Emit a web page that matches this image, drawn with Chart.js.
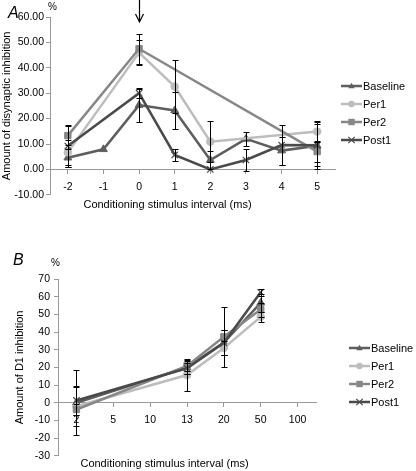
<!DOCTYPE html>
<html>
<head>
<meta charset="utf-8">
<script src="https://cdn.jsdelivr.net/npm/chart.js@4.4.1/dist/chart.umd.min.js"></script>
<style>
  body { margin: 0; background: #fff; font-family: 'Liberation Sans', Arial, sans-serif; }
  #wrap { position: relative; width: 416px; height: 471px; overflow: hidden; }
  canvas.plot { position: absolute; left: 0; }
  .lbl { position: absolute; color: #000; white-space: nowrap; line-height: 1; }
  .legend { position: absolute; font-size: 11px; }
  .legend div { height: 18px; display: flex; align-items: center; }
  .legend canvas { margin-right: 1px; }
</style>
</head>
<body>
<div id="wrap">
  <canvas id="chartA" class="plot" width="404" height="216" style="top:0"></canvas>
  <canvas id="chartB" class="plot" width="395" height="241" style="top:230px"></canvas>
  <div class="lbl" style="left:8px;top:5px;font-size:16px;font-style:italic">A</div>
  <div class="lbl" style="left:48px;top:2px;font-size:10px">%</div>
  <div class="lbl" style="left:13px;top:252px;font-size:16px;font-style:italic">B</div>
  <div class="lbl" style="left:51px;top:258px;font-size:10px">%</div>
  <div id="legendA" class="legend" style="left:341px;top:77px"></div>
  <div id="legendB" class="legend" style="left:349px;top:339px"></div>
</div>
<script>
// 系列名称
const seriesNames = ['Baseline', 'Per1', 'Per2', 'Post1'];

// 图A：条件刺激间隔 (ms)
const labelsA = ['-2', '-1', '0', '1', '2', '3', '4', '5'];
const baselineA = [4.6, 7.9, 25.3, 23.2, 3.7, 12.0, 7.4, 9.3];
const per1A = [6.7, null, 46.0, 32.6, 10.9, null, null, 14.9];
const per2A = [13.3, null, 47.5, null, null, null, null, 7.0];
const post1A = [9.2, null, 30.0, 5.7, 0.0, 3.7, 9.6, 9.5];
// 误差（±）
const baselineErrA = [3.5, null, 6.5, 7.4, 3.7, 2.9, 5.5, 9.3];
const per1ErrA = [5.0, null, 5.0, 10.4, 8.0, null, null, 4.0];
const per2ErrA = [3.8, null, 6.0, null, null, null, null, 4.0];
const post1ErrA = [8.3, null, 2.0, 2.3, null, 4.5, 8.0, 8.3];
const yTicksA = { min: -10, max: 60, step: 10 };

// 图B
const labelsB = ['2', '5', '10', '13', '20', '50', '100'];
const baselineB = [0.0, null, null, 20.0, 34.0, 56.5, null];
const per1B = [-2.0, null, null, 15.7, 31.0, 48.6, null];
const per2B = [-3.8, null, null, 20.8, 37.3, 52.7, null];
const post1B = [1.3, null, null, 19.5, 33.9, 62.5, null];
const baselineErrB = [18.5, null, null, 4.0, 7.0, 5.0, null];
const per1ErrB = [11.0, null, null, 9.0, 4.0, 3.0, null];
const per2ErrB = [3.0, null, null, 3.0, 17.0, 4.0, null];
const post1ErrB = [8.0, null, null, 3.0, 7.0, 2.0, null];
const yTicksB = { min: -30, max: 70, step: 10 };

const xTitle = 'Conditioning stimulus interval (ms)';

// 样式
const styles = [
    { color: '#5e5e5e', point: 'triangle', radius: 4.5, order: 3 },
    { color: '#bdbdbd', point: 'circle', radius: 3.8, order: 2 },
    { color: '#878787', point: 'rect', radius: 4.5, order: 1 },
    { color: '#4a4a4a', point: 'crossRot', radius: 4.5, order: 0 }
];

Chart.defaults.font.family = "'Liberation Sans', Arial, sans-serif";
Chart.defaults.color = '#000';

function makeDatasets(values, errors) {
    return values.map((v, i) => ({
        label: seriesNames[i],
        data: v,
        errors: errors[i],
        borderColor: styles[i].color,
        backgroundColor: styles[i].color,
        pointBackgroundColor: styles[i].color,
        pointBorderColor: styles[i].color,
        pointStyle: styles[i].point,
        pointRadius: styles[i].radius,
        pointBorderWidth: styles[i].point === 'crossRot' ? 1.2 : 1,
        borderWidth: 2.5,
        spanGaps: true,
        tension: 0,
        order: styles[i].order
    }));
}

// 误差线插件
const errorBars = {
    id: 'errorBars',
    afterDatasetsDraw(chart) {
        const ctx = chart.ctx;
        const yScale = chart.scales.y;
        ctx.save();
        ctx.strokeStyle = '#000';
        ctx.lineWidth = 1;
        chart.data.datasets.forEach((ds, di) => {
            const meta = chart.getDatasetMeta(di);
            ds.data.forEach((v, j) => {
                const e = ds.errors[j];
                if (v === null || e === null || e === undefined) return;
                const x = Math.round(meta.data[j].x) + 0.5;
                const yTop = Math.round(yScale.getPixelForValue(v + e)) + 0.5;
                const yBot = Math.round(yScale.getPixelForValue(v - e)) + 0.5;
                ctx.beginPath();
                ctx.moveTo(x, yTop); ctx.lineTo(x, yBot);
                ctx.moveTo(x - 3, yTop); ctx.lineTo(x + 3, yTop);
                ctx.moveTo(x - 3, yBot); ctx.lineTo(x + 3, yBot);
                ctx.stroke();
            });
        });
        ctx.restore();
    }
};

// 箭头插件（图A，0 ms 处）
const arrowMark = {
    id: 'arrowMark',
    afterDraw(chart, args, opts) {
        if (!opts.at) return;
        const ctx = chart.ctx;
        const x = Math.round(chart.scales.x.getPixelForValue(labelsA.indexOf(opts.at))) + 0.5;
        ctx.save();
        ctx.strokeStyle = '#000';
        ctx.lineWidth = 1.2;
        ctx.beginPath();
        ctx.moveTo(x, 0); ctx.lineTo(x, 22);
        ctx.moveTo(x - 4, 14); ctx.lineTo(x, 22); ctx.lineTo(x + 4, 14);
        ctx.stroke();
        ctx.restore();
    }
};

function buildChart(id, labels, datasets, yt, opt) {
    return new Chart(document.getElementById(id), {
        type: 'line',
        data: { labels: labels, datasets: datasets },
        plugins: [errorBars, arrowMark],
        options: {
            responsive: false,
            animation: false,
            layout: { padding: opt.padding },
            plugins: {
                legend: { display: false },
                tooltip: { enabled: false },
                title: {
                    display: true,
                    text: xTitle,
                    position: 'bottom',
                    font: { size: 11, weight: 'normal' },
                    padding: opt.titlePad
                },
                arrowMark: { at: opt.arrowAt }
            },
            scales: {
                x: {
                    type: 'category',
                    position: { y: 0 },
                    offset: true,
                    grid: { drawOnChartArea: false, offset: false, tickLength: 4, color: '#999' },
                    border: { color: '#999', width: 1 },
                    ticks: { padding: 7, font: { size: 10.5 }, maxRotation: 0, autoSkip: false }
                },
                y: {
                    min: yt.min,
                    max: yt.max,
                    grid: { drawOnChartArea: false, tickLength: 4, color: '#999' },
                    border: { color: '#999', width: 1 },
                    ticks: {
                        stepSize: yt.step,
                        padding: opt.tickPad,
                        font: { size: 10.5 },
                        callback: opt.fmt
                    },
                    title: {
                        display: true,
                        text: opt.yTitle,
                        font: { size: 11 },
                        padding: { top: 0, bottom: 2 }
                    },
                    afterFit: s => { s.width = opt.yWidth; }
                }
            }
        }
    });
}

buildChart('chartA', labelsA,
    makeDatasets([baselineA, per1A, per2A, post1A], [baselineErrA, per1ErrA, per2ErrA, post1ErrA]),
    yTicksA,
    {
        padding: { top: 17, right: 69, left: 0, bottom: 0 },
        titlePad: { top: 4, bottom: 4 },
        yWidth: 50, tickPad: 2,
        fmt: v => v.toFixed(2),
        yTitle: 'Amount of disynaptic inhibition',
        arrowAt: '0'
    });

buildChart('chartB', labelsB,
    makeDatasets([baselineB, per1B, per2B, post1B], [baselineErrB, per1ErrB, per2ErrB, post1ErrB]),
    yTicksB,
    {
        padding: { top: 49, right: 79, left: 13, bottom: 0 },
        titlePad: { top: 2, bottom: 0 },
        yWidth: 45, tickPad: 4,
        fmt: v => v,
        yTitle: 'Amount of D1 inhibition',
        arrowAt: null
    });

// 图例
function drawIcon(c, st) {
    const ctx = c.getContext('2d');
    const cy = c.height / 2, cx = c.width / 2, r = 3.2;
    ctx.strokeStyle = st.color; ctx.fillStyle = st.color; ctx.lineWidth = 2.5;
    ctx.beginPath(); ctx.moveTo(0, cy); ctx.lineTo(c.width, cy); ctx.stroke();
    ctx.lineWidth = 1.2;
    ctx.beginPath();
    if (st.point === 'triangle') {
        ctx.moveTo(cx, cy - r); ctx.lineTo(cx + r, cy + r * 0.7); ctx.lineTo(cx - r, cy + r * 0.7); ctx.closePath(); ctx.fill();
    } else if (st.point === 'circle') {
        ctx.arc(cx, cy, r, 0, Math.PI * 2); ctx.fill();
    } else if (st.point === 'rect') {
        ctx.fillRect(cx - r, cy - r, r * 2, r * 2);
    } else {
        ctx.moveTo(cx - r, cy - r); ctx.lineTo(cx + r, cy + r);
        ctx.moveTo(cx + r, cy - r); ctx.lineTo(cx - r, cy + r); ctx.stroke();
    }
}
['legendA', 'legendB'].forEach(id => {
    const box = document.getElementById(id);
    seriesNames.forEach((name, i) => {
        const row = document.createElement('div');
        const c = document.createElement('canvas');
        c.width = 21; c.height = 10;
        drawIcon(c, styles[i]);
        const t = document.createElement('span');
        t.textContent = name;
        row.appendChild(c); row.appendChild(t);
        box.appendChild(row);
    });
});
</script>
</body>
</html>
